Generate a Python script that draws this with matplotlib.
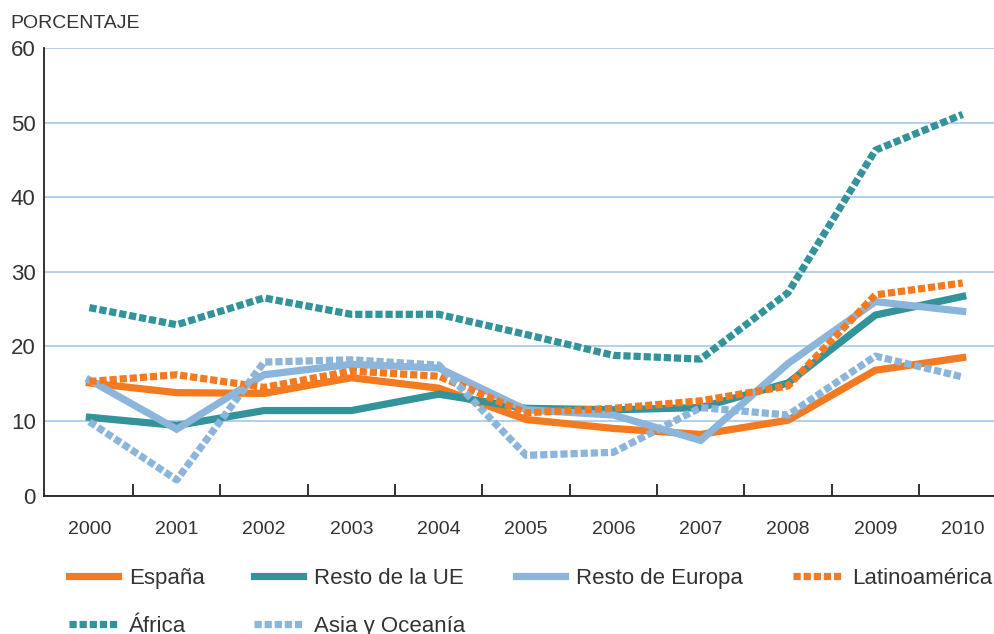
import matplotlib.pyplot as plt
from matplotlib.ticker import FixedLocator

plt.rcParams['font.family'] = ['Liberation Sans', 'DejaVu Sans']

years = ['2000', '2001', '2002', '2003', '2004', '2005',
         '2006', '2007', '2008', '2009', '2010']

espana = [15.1, 13.8, 13.7, 15.8, 14.4, 10.2, 9.0, 8.2, 10.1, 16.8, 18.5]
resto_ue = [10.5, 9.4, 11.4, 11.4, 13.6, 11.7, 11.5, 11.8, 15.1, 24.2, 26.7]
resto_europa = [15.5, 8.9, 16.2, 17.6, 17.1, 11.5, 10.8, 7.4, 17.7, 26.0, 24.7]
latinoamerica = [15.3, 16.2, 14.5, 16.7, 16.0, 11.1, 11.7, 12.7, 14.7, 26.9, 28.5]
africa = [25.2, 22.9, 26.5, 24.3, 24.3, 21.6, 18.8, 18.3, 27.2, 46.3, 51.1]
asia_oceania = [9.9, 2.1, 17.9, 18.2, 17.5, 5.4, 5.8, 11.8, 10.8, 18.7, 15.9]

naranja = '#f37a21'
verde = '#33939a'
celeste = '#8cb5dc'
texto = '#333333'

fig = plt.figure(figsize=(9.95, 6.34), dpi=100)
ax = fig.add_axes([0.0442, 0.2183, 0.9558, 0.706])

x = list(range(len(years)))
lw = 5.2
dots = (0, (1, 0.4))

series = [
    (espana, 'España', naranja, '-'),
    (resto_ue, 'Resto de la UE', verde, '-'),
    (resto_europa, 'Resto de Europa', celeste, '-'),
    (latinoamerica, 'Latinoamérica', naranja, dots),
    (africa, 'África', verde, dots),
    (asia_oceania, 'Asia y Oceanía', celeste, dots),
]

lineas = {}
for vals, nombre, color, ls in series:
    l, = ax.plot(x, vals, color=color, lw=lw, ls=ls, label=nombre,
                 solid_joinstyle='miter', dash_capstyle='butt')
    lineas[nombre] = l

ax.set_xlim(-0.52, 10.37)
ax.set_ylim(0, 60)
ax.set_yticks(range(0, 61, 10))
ax.set_xticks(x)
ax.set_xticklabels(years)
ax.xaxis.set_minor_locator(FixedLocator([i + 0.5 for i in range(10)]))

ax.grid(axis='y', color='#a7c7e7', lw=1.2)
ax.set_axisbelow(True)
for s in ['top', 'right']:
    ax.spines[s].set_visible(False)
for s in ['left', 'bottom']:
    ax.spines[s].set_color('#222222')
    ax.spines[s].set_linewidth(1.3)

ax.tick_params(axis='y', length=0, pad=6, labelsize=16, labelcolor=texto)
ax.tick_params(axis='x', which='major', length=0, pad=18, labelsize=14, labelcolor=texto)
ax.tick_params(axis='x', which='minor', direction='in', length=9, width=1.3, color='#222222')

fig.text(0.01, 0.963, 'PORCENTAJE', fontsize=14, color=texto, va='center', ha='left')

# legend fills by column, so order it to read row by row
orden = ['España', 'África', 'Resto de la UE', 'Asia y Oceanía',
         'Resto de Europa', 'Latinoamérica']
fig.legend([lineas[n] for n in orden], orden,
           loc='upper left', bbox_to_anchor=(0.069, 0.104), ncol=4, frameon=False,
           fontsize=16, handlelength=2.2, handletextpad=0.5, columnspacing=2.25,
           labelspacing=1.2, borderpad=0, borderaxespad=0, labelcolor=texto)

fig.savefig('out.png', dpi=100)
